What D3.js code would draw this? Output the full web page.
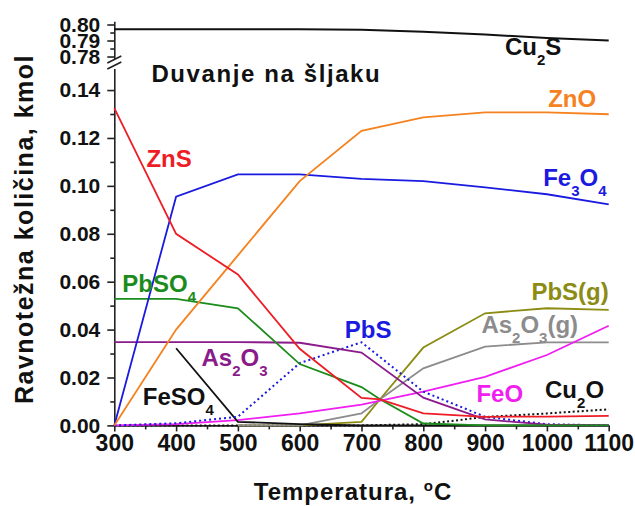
<!DOCTYPE html>
<meta charset="utf-8">
<style>
  body { margin: 0; background: #fff; }
  svg text { font-family: "Liberation Sans", Arial, sans-serif; font-weight: bold; }
</style>
<svg width="635" height="506"></svg>
<script src="https://cdn.jsdelivr.net/npm/d3@7/dist/d3.min.js"></script>
<script>
// temperature points (730 is the extra point where several curves meet)
var temps = [300, 400, 500, 600, 700, 730, 800, 900, 1000, 1100];

var cu2s   = [0.797, 0.797, 0.797, 0.797, 0.7967, null, 0.7955, 0.7938, 0.7915, 0.7900];
var zns    = [0.1325, 0.080, 0.063, 0.032, 0.0115, 0.0109, 0.0050, 0.0036, 0.0037, 0.0040];
var zno    = [0, 0.040, 0.071, 0.102, 0.123, null, 0.1286, 0.1307, 0.1307, 0.1299];
var fe3o4  = [0, 0.0955, 0.1048, 0.1048, 0.1029, null, 0.1020, 0.0994, 0.0965, 0.0923];
var pbso4  = [0.0528, 0.0528, 0.0489, 0.0256, 0.0160, 0.0109, 0.0008, 0, 0, 0];
var as2o3  = [0.0348, 0.0348, 0.0348, 0.0345, 0.0304, null, 0.0116, 0.0025, 0.0003, 0];
var pbs    = [0, 0.0009, 0.0036, 0.0260, 0.0347, null, 0.0141, 0.0036, 0.0005, 0];
var feso4  = [null, 0.0322, 0.0015, 0.0005, 0, null, 0, 0, 0, 0];
var feo    = [0, 0.0005, 0.0022, 0.0050, 0.0087, null, 0.0141, 0.0203, 0.0294, 0.0416];
var pbsg   = [null, null, 0, 0, 0.0015, 0.0109, 0.0325, 0.0468, 0.0489, 0.0482];
var as2o3g = [null, null, 0, 0, 0.0050, 0.0109, 0.0238, 0.0329, 0.0347, 0.0347];
var cu2o   = [0, 0, 0, 0, 0, null, 0.0005, 0.0035, 0.0050, 0.0067];

var xTicks = [300, 400, 500, 600, 700, 800, 900, 1000, 1100];
var yTicks = [0, 0.02, 0.04, 0.06, 0.08, 0.10, 0.12, 0.14];
var yTopTicks = [0.78, 0.79, 0.80];

var svg = d3.select("svg");

var x = d3.scaleLinear().domain([300, 1100]).range([114.3, 608.7]);
var y = d3.scaleLinear().domain([0, 0.149]).range([425.4, 68.5]);
var yTop = d3.scaleLinear().domain([0.7782, 0.802]).range([59.4, 21.3]);

// axes
function styleAxis(g, size) {
  g.selectAll("path, line").attr("stroke", "#222").attr("stroke-width", 1.6);
  g.selectAll("text").attr("fill", "#111").style("font-size", size + "px")
    .style("font-family", "'Liberation Sans', Arial, sans-serif").style("font-weight", "bold");
}

var gx = svg.append("g").attr("transform", "translate(0," + y(0) + ")")
  .call(d3.axisBottom(x).tickValues(xTicks).tickFormat(d3.format("d")).tickSize(6).tickSizeOuter(0).tickPadding(3));
styleAxis(gx, 23);
var gxm = svg.append("g").attr("transform", "translate(0," + y(0) + ")")
  .call(d3.axisBottom(x).tickValues(d3.range(350, 1100, 100)).tickFormat("").tickSize(4));
gxm.select(".domain").remove();
styleAxis(gxm, 10);

var gy = svg.append("g").attr("transform", "translate(" + x(300) + ",0)")
  .call(d3.axisLeft(y).tickValues(yTicks).tickFormat(d3.format(".2f")).tickSize(7).tickSizeOuter(0).tickPadding(7));
styleAxis(gy, 21);
var gym = svg.append("g").attr("transform", "translate(" + x(300) + ",0)")
  .call(d3.axisLeft(y).tickValues(d3.range(0.01, 0.15, 0.02)).tickFormat("").tickSize(4));
gym.select(".domain").remove();
styleAxis(gym, 10);

var gt = svg.append("g").attr("transform", "translate(" + x(300) + ",0)")
  .call(d3.axisLeft(yTop).tickValues(yTopTicks).tickFormat(d3.format(".2f")).tickSize(7).tickSizeOuter(0).tickPadding(7));
styleAxis(gt, 21);
var gtm = svg.append("g").attr("transform", "translate(" + x(300) + ",0)")
  .call(d3.axisLeft(yTop).tickValues([0.785, 0.795]).tickFormat("").tickSize(4));
gtm.select(".domain").remove();
styleAxis(gtm, 10);

// axis break marks
var ax = x(300);
svg.append("polygon")
  .attr("points", [[ax - 7, 63], [ax + 7, 56], [ax + 7, 62], [ax - 7, 69]].join(" "))
  .attr("fill", "#fff");
[63, 69].forEach(function(b) {
  svg.append("line").attr("x1", ax - 7).attr("y1", b).attr("x2", ax + 7).attr("y2", b - 7)
    .attr("stroke", "#222").attr("stroke-width", 1.6);
});

// lines
function drawLine(vals, scale, color, dash, w) {
  var pts = temps.map(function(t, i) { return [t, vals[i]]; })
    .filter(function(d) { return d[1] != null; });
  svg.append("path")
    .datum(pts)
    .attr("fill", "none")
    .attr("stroke", color)
    .attr("stroke-width", w || 1.8)
    .attr("stroke-dasharray", dash || null)
    .attr("d", d3.line().x(function(d) { return x(d[0]); }).y(function(d) { return scale(d[1]); }));
}

drawLine(cu2s, yTop, "#111", null, 2);
drawLine(cu2o, y, "#111", "2,2.5", 2);
drawLine(pbsg, y, "#8c8c14");
drawLine(as2o3g, y, "#8c8c8c");
drawLine(feo, y, "#f01ef0");
drawLine(feso4, y, "#111");
drawLine(pbs, y, "#1a1ae0", "2,3", 2);
drawLine(as2o3, y, "#8b1a8b");
drawLine(pbso4, y, "#1b8c1b");
drawLine(fe3o4, y, "#1a1ae0");
drawLine(zno, y, "#f5821f");
drawLine(zns, y, "#ee1c25");

// labels: parts are [text, subscript?]
function label(parts, t, v, color, scale, spacing) {
  var el = svg.append("text")
    .attr("x", x(t)).attr("y", (scale || y)(v))
    .attr("fill", color)
    .style("font-size", "24px")
    .style("letter-spacing", (spacing || 0) + "px");
  var shift = 0;
  parts.forEach(function(p) {
    var s = p[1] ? 10 : 0;
    el.append("tspan")
      .attr("dy", s - shift)
      .style("font-size", p[1] ? "15px" : "24px")
      .text(p[0]);
    shift = s;
  });
}

label([["Duvanje na šljaku"]], 360, 0.1435, "#111", y, 1.6);
label([["Cu"], ["2", 1], ["S"]], 932, 0.7809, "#111", yTop);
label([["ZnO"]], 1002, 0.1328, "#f5821f");
label([["ZnS"]], 352, 0.1079, "#ee1c25");
label([["Fe"], ["3", 1], ["O"], ["4", 1]], 994, 0.1000, "#1a1ae0");
label([["PbSO"], ["4", 1]], 313, 0.0558, "#1b8c1b");
label([["As"], ["2", 1], ["O"], ["3", 1]], 441, 0.0250, "#8b1a8b");
label([["FeSO"], ["4", 1]], 346, 0.0085, "#111");
label([["PbS"]], 673, 0.0365, "#1a1ae0");
label([["PbS(g)"]], 975, 0.0524, "#8c8c14");
label([["As"], ["2", 1], ["O"], ["3", 1], ["(g)"]], 894, 0.0386, "#8c8c8c");
label([["FeO"]], 886, 0.0099, "#f01ef0");
label([["Cu"], ["2", 1], ["O"]], 997, 0.0113, "#111");

// axis titles
svg.append("text")
  .attr("x", 353).attr("y", 500)
  .attr("text-anchor", "middle")
  .attr("fill", "#111")
  .style("font-size", "24px")
  .style("letter-spacing", "1px")
  .html("Temperatura, <tspan dy='-9' style='font-size:15px'>o</tspan><tspan dy='9'>C</tspan>");

svg.append("text")
  .attr("transform", "translate(33,229) rotate(-90)")
  .attr("text-anchor", "middle")
  .attr("fill", "#111")
  .style("font-size", "25px")
  .style("letter-spacing", "1.5px")
  .text("Ravnotežna količina, kmol");
</script>
